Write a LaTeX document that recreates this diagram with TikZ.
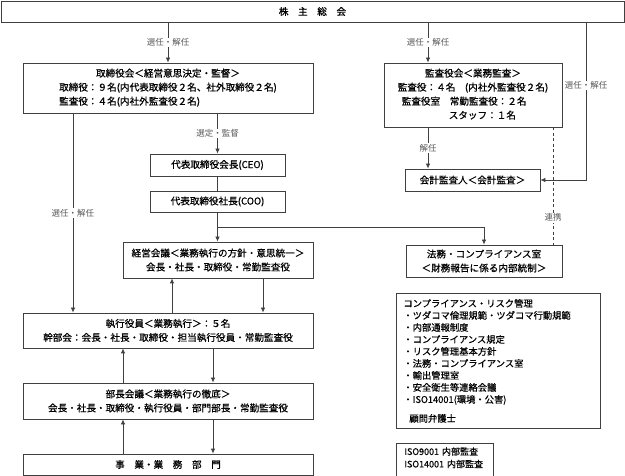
\documentclass[tikz,border=0pt]{standalone}
\usepackage{fontspec}
\setmainfont{Noto Sans CJK JP}
\newfontfamily\heavyfont{Noto Sans CJK JP}[FakeBold=0.6]
\usetikzlibrary{arrows.meta}
\newcommand\mainfs{\heavyfont\fontsize{9.6}{14}\selectfont}
\newcommand\lblfs{\fontsize{8.5}{10}\selectfont}
\tikzset{
  box/.style={draw=black!75, line width=0.8pt, fill=white, inner sep=0pt, align=center, font=\mainfs},
  conn/.style={draw=black!75, line width=0.8pt},
  arr/.style={conn, -{Latex[length=5pt,width=4.5pt]}},
  lbl/.style={fill=white, inner sep=1pt, font=\lblfs, text=black!65},
}
\begin{document}
\begin{tikzpicture}[x=1pt,y=-1pt]
\useasboundingbox (0,0) rectangle (625,476);
% boxes
\node[box, minimum width=623pt, minimum height=21pt] (gm) at (312.5,11.5) {株　主　総　会};
\node[box, minimum width=290pt, minimum height=50pt] (tb) at (168,88) {\begin{tabular}{@{}l@{}}\multicolumn{1}{@{}c@{}}{取締役会＜経営意思決定・監督＞}\\取締役：９名(内代表取締役２名、社外取締役２名)\\監査役：４名(内社外監査役２名)\end{tabular}};
\node[box, minimum width=178pt, minimum height=64pt] (ka) at (473,95) {\begin{tabular}{@{}l@{}}\multicolumn{1}{@{}c@{}}{監査役会＜業務監査＞}\\監査役：４名　(内社外監査役２名)\\\hspace{4pt}監査役室　常勤監査役：２名\\\hspace{51pt}スタッフ：１名\end{tabular}};
\node[box, minimum width=135pt, minimum height=22pt] (ceo) at (217.5,165) {代表取締役会長(CEO)};
\node[box, minimum width=135pt, minimum height=21pt] (coo) at (217.5,201.5) {代表取締役社長(COO)};
\node[box, minimum width=190pt, minimum height=36pt] (kei) at (218,260) {経営会議＜業務執行の方針・意思統一＞\\会長・社長・取締役・常勤監査役};
\node[box, minimum width=290pt, minimum height=35pt] (sk) at (168,330.5) {執行役員＜業務執行＞：５名\\幹部会：会長・社長・取締役・担当執行役員・常勤監査役};
\node[box, minimum width=290pt, minimum height=36pt] (bc) at (168,401) {部長会議＜業務執行の徹底＞\\会長・社長・取締役・執行役員・部門部長・常勤監査役};
\node[box, minimum width=290pt, minimum height=21pt] (jg) at (168,464.5) {事　業・業　務　部　門};
\node[box, minimum width=135pt, minimum height=22pt] (kk) at (472.5,180) {会計監査人＜会計監査＞};
\node[box, minimum width=156pt, minimum height=32pt] (hm) at (484,261) {法務・コンプライアンス室\\＜財務報告に係る内部統制＞};
\node[box, anchor=north west, minimum width=204pt, minimum height=135pt, align=left, text width=190pt, inner xsep=7pt, font=\heavyfont\fontsize{9.3}{12}\selectfont] (cr) at (396,293) {コンプライアンス・リスク管理\\・ツダコマ倫理規範・ツダコマ行動規範\\・内部通報制度\\・コンプライアンス規定\\・リスク管理基本方針\\・法務・コンプライアンス室\\・輸出管理室\\・安全衛生等連絡会議\\・ISO14001(環境・公害)\\[7pt]\hspace*{6pt}顧問弁護士};
\node[box, anchor=north west, minimum width=97pt, align=left, text width=81pt, inner xsep=8pt, inner ysep=4pt, font=\heavyfont\fontsize{9}{12.5}\selectfont] (iso) at (396,443) {ISO9001 内部監査\\ISO14001 内部監査\\\strut};
% connectors
\draw[arr] (tb.north |- gm.south) -- node[lbl]{選任・解任} (tb.north);
\draw[arr] (gm.south -| 428,0) -- node[lbl]{選任・解任} (ka.north -| 428,0);
\draw[arr] (gm.south -| 586,0) |- node[lbl,pos=0.2]{選任・解任} (kk.east);
\draw[arr] (tb.south -| ceo.north) -- node[lbl]{選定・監督} (ceo.north);
\draw[conn] (ceo) -- (coo);
\draw[arr] (coo.south) -- (kei.north -| coo.south);
\draw[arr] (coo.south |- 0,227) -| (hm.north);
\draw[arr] (tb.south -| 73,0) -- node[lbl]{選任・解任} (sk.north -| 73,0);
\draw[arr] (sk.north -| 172,0) -- (kei.south -| 172,0);
\draw[arr] (kei.south -| 263,0) -- (sk.north -| 263,0);
\draw[arr] (bc.north -| 123,0) -- (sk.south -| 123,0);
\draw[arr] (sk.south -| 213,0) -- (bc.north -| 213,0);
\draw[arr] (jg.north -| 123,0) -- (bc.south -| 123,0);
\draw[arr] (bc.south -| 213,0) -- (jg.north -| 213,0);
\draw[arr] (ka.south -| 428,0) -- node[lbl]{解任} (kk.north -| 428,0);
\draw[conn, dash pattern=on 3pt off 2.5pt] (ka.south -| 553,0) -- node[lbl,pos=0.77]{連携} (hm.north -| 553,0);
\end{tikzpicture}
\end{document}
